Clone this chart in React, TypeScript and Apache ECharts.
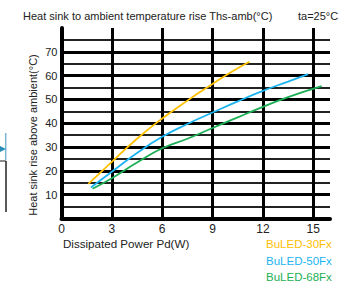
import React, { useEffect, useRef } from "react";
import * as echarts from "echarts";

const xTicks = [0, 3, 6, 9, 12, 15];
const yTicks = [10, 20, 30, 40, 50, 60, 70];
const seriesNames = ["BuLED-30Fx", "BuLED-50Fx", "BuLED-68Fx"];
const seriesColors = ["#FFC000", "#1CB4F0", "#1DAF55"];

const led30: [number, number][] = [
  [1.6, 14.5], [3, 23.8], [4.5, 33.5], [6, 42], [7.5, 49.5], [9, 56.5], [10, 61], [11.2, 65.8],
];
const led50: [number, number][] = [
  [1.75, 13], [3, 19.6], [4.5, 27.5], [6, 34.3], [7.5, 39.7], [9, 44.5], [10.5, 49.2], [12, 53.6], [13.5, 57.5], [14.7, 60.6],
];
const led68: [number, number][] = [
  [1.85, 12.5], [3, 16.9], [4.5, 23.5], [6, 29.5], [7.5, 33.5], [9, 38], [10.5, 42.5], [12, 46.9], [13.5, 51], [15.5, 55.6],
];

const FONT = "Liberation Sans, Arial, sans-serif";
const legendTops = [238, 255, 271];

export default function App() {
  const ref = useRef<HTMLDivElement>(null);
  useEffect(() => {
    if (!ref.current) return;
    const chart = echarts.init(ref.current, undefined, { renderer: "svg" });
    const datas = [led30, led50, led68];
    const hidden = "rgba(0,0,0,0)";
    chart.setOption({
      animation: false,
      backgroundColor: "#ffffff",
      grid: { left: 61.5, right: 22, top: 28, bottom: 64.5, containLabel: false },
      xAxis: {
        type: "value",
        min: 0,
        max: 16,
        interval: 3,
        axisLine: { show: true, lineStyle: { color: "#000", width: 4 } },
        axisTick: { show: false },
        axisLabel: {
          color: "#222",
          fontFamily: FONT,
          fontSize: 12,
          margin: 4,
          formatter: (v: number) => (xTicks.includes(v) ? String(v) : ""),
        },
        splitLine: {
          show: true,
          lineStyle: { color: ["#000", "#000", "#000", "#000", "#000", "#000", hidden], width: 3 },
        },
      },
      yAxis: {
        type: "value",
        min: 0,
        max: 80,
        interval: 10,
        axisLine: { show: true, lineStyle: { color: "#000", width: 4 } },
        axisTick: { show: false },
        axisLabel: {
          color: "#222",
          fontFamily: FONT,
          fontSize: 11,
          margin: 4,
          formatter: (v: number) => (yTicks.includes(v) ? String(v) : ""),
        },
        splitLine: {
          show: true,
          lineStyle: {
            color: ["#000", "#000", "#000", "#000", "#000", "#000", "#000", "#000", hidden],
            width: 3,
          },
        },
        minorTick: { show: false, splitNumber: 2 },
        minorSplitLine: { show: true, lineStyle: { color: "#222", width: 2 } },
      },
      legend: seriesNames.map((n, i) => ({
        orient: "vertical",
        left: 261,
        top: legendTops[i],
        icon: "none",
        itemWidth: 0,
        itemHeight: 12,
        padding: 0,
        textStyle: { fontFamily: FONT, fontSize: 11.5, color: seriesColors[i] },
        data: [n],
      })),
      series: seriesNames.map((n, i) => ({
        name: n,
        type: "line",
        smooth: true,
        showSymbol: false,
        data: datas[i],
        lineStyle: { color: seriesColors[i], width: 1.8 },
        itemStyle: { color: seriesColors[i] },
      })),
      graphic: [
        {
          type: "text",
          left: 23,
          top: 10,
          style: {
            text: "Heat sink to ambient temperature rise Ths-amb(°C)",
            fill: "#222",
            font: `11px ${FONT}`,
          },
        },
        {
          type: "text",
          left: 298,
          top: 10,
          style: { text: "ta=25°C", fill: "#222", font: `11px ${FONT}` },
        },
        {
          type: "text",
          x: 33,
          y: 135,
          rotation: Math.PI / 2,
          style: {
            text: "Heat sink rise above ambient(°C)",
            fill: "#222",
            font: `11px ${FONT}`,
            align: "center",
            verticalAlign: "middle",
          },
        },
        {
          type: "text",
          left: 63,
          top: 237.5,
          style: { text: "Dissipated Power Pd(W)", fill: "#222", font: `11.6px ${FONT}` },
        },
        {
          type: "line",
          shape: { x1: 5.7, y1: 133, x2: 5.7, y2: 160 },
          style: { stroke: "#7ab6d4", lineWidth: 1.5 },
        },
        {
          type: "polygon",
          shape: { points: [[0, 146], [6, 149], [0, 152]] },
          style: { fill: "#2a8db5" },
        },
        {
          type: "line",
          shape: { x1: 0, y1: 161, x2: 6, y2: 161 },
          style: { stroke: "#666", lineWidth: 1.5 },
        },
        {
          type: "line",
          shape: { x1: 6, y1: 161, x2: 6, y2: 212 },
          style: { stroke: "#222", lineWidth: 1.5 },
        },
      ],
    });
    return () => chart.dispose();
  }, []);
  return <div ref={ref} style={{ width: 352, height: 283, position: "absolute", left: 0, top: 0 }} />;
}
